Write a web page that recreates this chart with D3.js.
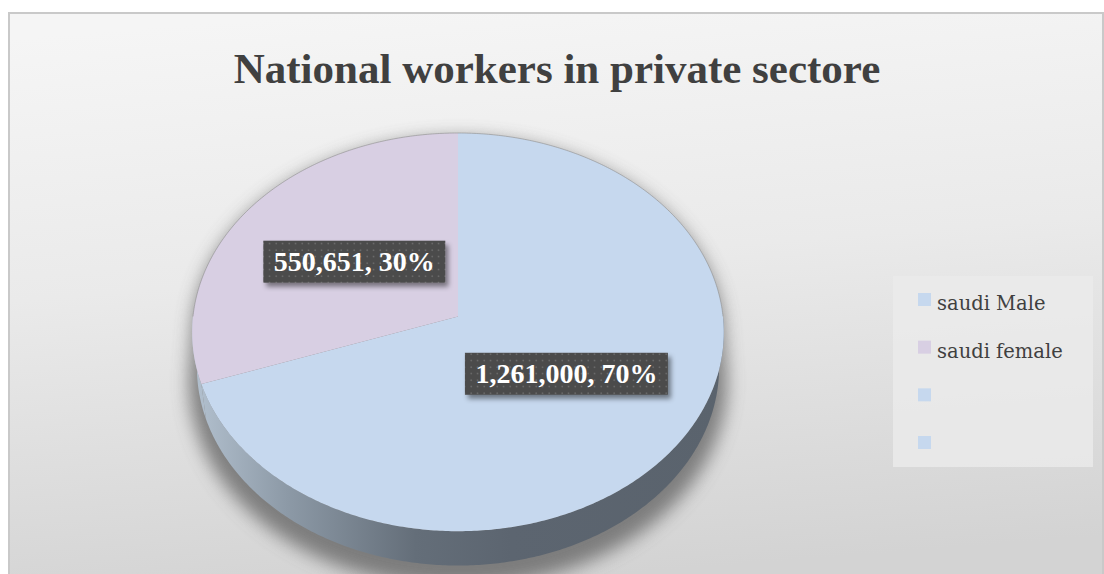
<!DOCTYPE html>
<html>
<head>
<meta charset="utf-8">
<script src="https://cdn.jsdelivr.net/npm/d3@7/dist/d3.min.js"></script>
<style>
  html, body { margin: 0; padding: 0; background: #ffffff; }
  svg { display: block; }
</style>
</head>
<body>
<svg id="chart" width="1104" height="574"></svg>
<script>
// ---- data ----
const chartTitle = "National workers in private sectore";
const categories = ["saudi Male", "saudi female"];
const values = [1261000, 550651];
const legendLabels = ["saudi Male", "saudi female", "", ""];

// ---- layout ----
const frame = { x: 9, y: 13, w: 1094, h: 570 };
// simple perspective camera looking down on a unit-radius disc
const cam = { cx: 458, cy: 316.5, f: 2250, dist: 8.49, elev: 48.3 * Math.PI / 180, thick: 0.205 };
const topColors = ["#c6d8ee", "#d8cfe3"];
const legendColors = ["#c6d8ee", "#d8cfe3", "#c6d8ee", "#c6d8ee"];

const sinE = Math.sin(cam.elev), cosE = Math.cos(cam.elev);
// project a point of the pie: angle a (0 = back/12 o'clock, clockwise), radius r, height y (0 = top face)
function project(a, r = 1, y = 0) {
  const x = r * Math.sin(a), z = -r * Math.cos(a);
  const up = y * cosE - z * sinE;
  const toward = y * sinE + z * cosE;
  const D = cam.dist - toward;
  return [cam.cx + cam.f * x / D, cam.cy - cam.f * up / D];
}
function rim(a0, a1, y = 0, r = 1) {
  const steps = Math.max(2, Math.ceil((a1 - a0) / 0.01));
  return d3.range(steps + 1).map(i => project(a0 + (a1 - a0) * i / steps, r, y));
}

const svg = d3.select("#chart");
const defs = svg.append("defs");

// background gradient
const bg = defs.append("linearGradient").attr("id", "bgGrad")
  .attr("x1", "0.3").attr("y1", "0").attr("x2", "0.45").attr("y2", "1");
bg.append("stop").attr("offset", "0").attr("stop-color", "#f5f5f5");
bg.append("stop").attr("offset", "0.45").attr("stop-color", "#eaeaea");
bg.append("stop").attr("offset", "1").attr("stop-color", "#d3d3d3");

// side wall gradient (lit from the left)
const side = defs.append("linearGradient").attr("id", "sideGrad")
  .attr("gradientUnits", "userSpaceOnUse")
  .attr("x1", 193).attr("x2", 723).attr("y1", 0).attr("y2", 0);
side.append("stop").attr("offset", "0").attr("stop-color", "#b3c1cf");
side.append("stop").attr("offset", "0.18").attr("stop-color", "#8c99a6");
side.append("stop").attr("offset", "0.42").attr("stop-color", "#646e79");
side.append("stop").attr("offset", "0.6").attr("stop-color", "#5c6570");
side.append("stop").attr("offset", "1").attr("stop-color", "#5a636d");

defs.append("filter").attr("id", "pieShadow")
  .attr("filterUnits", "userSpaceOnUse")
  .attr("x", 120).attr("y", 100).attr("width", 680).attr("height", 520)
  .append("feGaussianBlur").attr("stdDeviation", 9);

const boxShadow = defs.append("filter").attr("id", "boxShadow")
  .attr("x", "-20%").attr("y", "-40%").attr("width", "140%").attr("height", "180%");
boxShadow.append("feDropShadow").attr("dx", 3).attr("dy", 4)
  .attr("stdDeviation", 2.5).attr("flood-color", "#000").attr("flood-opacity", 0.45);

// dotted fill for the label boxes
const pat = defs.append("pattern").attr("id", "dots")
  .attr("patternUnits", "userSpaceOnUse").attr("width", 6.5).attr("height", 6.5);
pat.append("rect").attr("width", 6.5).attr("height", 6.5).attr("fill", "#4b4b4b");
pat.append("rect").attr("x", 2.5).attr("y", 2.5).attr("width", 1.3).attr("height", 1.3)
  .attr("fill", "#7a7a7a");

// chart area
svg.append("rect")
  .attr("x", frame.x).attr("y", frame.y).attr("width", frame.w).attr("height", frame.h)
  .attr("fill", "url(#bgGrad)").attr("stroke", "#c9c9c9").attr("stroke-width", 2);

// title
svg.append("text")
  .attr("x", 557).attr("y", 83)
  .attr("text-anchor", "middle")
  .attr("font-family", "'Liberation Serif', 'Times New Roman', serif")
  .attr("font-weight", "bold").attr("font-size", 43)
  .attr("fill", "#404040")
  .text(chartTitle);

// ---- pie ----
const total = d3.sum(values);
const pie = d3.pie().sort(null).value(d => d);
const arcsData = pie(values);
const line = d3.line();

// soft shadow under the pie
const shadowOutline = rim(Math.PI / 2, 3 * Math.PI / 2, -cam.thick * 1.25, 1.035)
  .concat(rim(-Math.PI / 2, Math.PI / 2, 0, 1.0));
svg.append("path")
  .attr("d", line(shadowOutline.map(p => [p[0], p[1] + 5])) + "Z")
  .attr("fill", "#5e5e5e").attr("opacity", 0.75)
  .attr("filter", "url(#pieShadow)");

// side walls: only the front half is visible
const wallG = svg.append("g");
arcsData.forEach(d => {
  const a0 = Math.max(d.startAngle, Math.PI / 2);
  const a1 = Math.min(d.endAngle, 3 * Math.PI / 2);
  if (a1 <= a0) return;
  const upper = rim(a0, a1, 0);
  const lower = rim(a0, a1, -cam.thick).reverse();
  wallG.append("path")
    .attr("d", line(upper.concat(lower)) + "Z")
    .attr("fill", "url(#sideGrad)");
});

// top faces
svg.append("g").selectAll("path.slice")
  .data(arcsData)
  .join("path")
  .attr("class", "slice")
  .attr("d", d => line([project(0, 0, 0)].concat(rim(d.startAngle, d.endAngle, 0))) + "Z")
  .attr("fill", (d, i) => topColors[i]);

// thin rim along the back edge of the top face
svg.append("path")
  .attr("d", line(rim(-Math.PI / 2, Math.PI / 2, 0)))
  .attr("fill", "none").attr("stroke", "#8f8f8f").attr("stroke-width", 1)
  .attr("stroke-opacity", 0.6);

// ---- data labels ----
const fmt = d3.format(",");
const labelG = svg.append("g");
arcsData.forEach(d => {
  const mid = (d.startAngle + d.endAngle) / 2;
  const [lx, ly] = project(mid, 0.49, 0);
  const txt = `${fmt(d.data)}, ${Math.round(d.data / total * 100)}%`;
  const grp = labelG.append("g");
  const box = grp.append("rect");
  const t = grp.append("text")
    .attr("x", lx).attr("y", ly + 9.5)
    .attr("text-anchor", "middle")
    .attr("font-family", "'Liberation Serif', 'Times New Roman', serif")
    .attr("font-weight", "bold").attr("font-size", 28)
    .attr("fill", "#ffffff")
    .text(txt);
  const w = t.node().getComputedTextLength() + 21;
  box.attr("x", lx - w / 2).attr("y", ly - 21)
    .attr("width", w).attr("height", 42)
    .attr("fill", "url(#dots)")
    .attr("filter", "url(#boxShadow)");
});

// ---- legend ----
const legend = svg.append("g");
legend.append("rect")
  .attr("x", 893).attr("y", 276).attr("width", 200).attr("height", 191)
  .attr("fill", "#ebebeb").attr("fill-opacity", 0.8);
const rowY = d3.scalePoint().domain(d3.range(legendLabels.length)).range([299.5, 442.5]);
legendLabels.forEach((lab, i) => {
  legend.append("rect")
    .attr("x", 918).attr("y", rowY(i) - 6.5).attr("width", 13).attr("height", 13)
    .attr("fill", legendColors[i]);
  legend.append("text")
    .attr("x", 937).attr("y", rowY(i) + 10.5)
    .attr("font-family", "'DejaVu Serif', serif")
    .attr("font-size", 19.5)
    .attr("fill", "#404040")
    .text(lab);
});
</script>
</body>
</html>
